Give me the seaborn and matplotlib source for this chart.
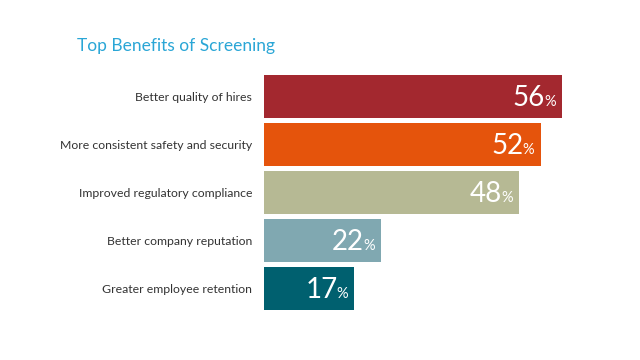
import matplotlib
matplotlib.use("Agg")
import matplotlib.pyplot as plt
import seaborn as sns
import pandas as pd
from matplotlib.transforms import offset_copy

categories = ["Better quality of hires", "More consistent safety and security",
              "Improved regulatory compliance", "Better company reputation",
              "Greater employee retention"]
values = [56, 52, 48, 22, 17]
colors = ["#A3282F", "#E5540C", "#B6B994", "#80A8B1", "#00606F"]
title = "Top Benefits of Screening"

sns.set_theme(style="white")
plt.rcParams['font.family'] = ['Lato', 'DejaVu Sans']

df = pd.DataFrame({"cat": categories, "val": values})
fig = plt.figure(figsize=(6.4, 3.6), dpi=100)
ax = fig.add_axes([264/640, 1-312.5/360, 320/640, 240/360])
sns.barplot(data=df, x="val", y="cat", hue="cat", palette=colors, legend=False,
            width=0.9, saturation=1, linewidth=0, ax=ax)
ax.set_xlim(0, 320/5.32)
ax.set_ylim(4.5, -0.5)
for s in ax.spines.values():
    s.set_visible(False)
ax.set_xticks([])
ax.set_xlabel("")
ax.set_ylabel("")
ax.tick_params(axis="y", length=0, pad=8.5, labelsize=8.8, labelcolor="#333333")

for i, v in enumerate(values):
    t1 = offset_copy(ax.transData, fig=fig, x=-17, y=-10, units="dots")
    ax.text(v, i, str(v), transform=t1, ha="right", va="baseline", color="white", fontsize=20)
    t2 = offset_copy(ax.transData, fig=fig, x=-18, y=-10, units="dots")
    ax.text(v, i, "%", transform=t2, ha="left", va="baseline", color="white", fontsize=10.5)

fig.text(77/640, 1-46/360, title, ha="left", va="center", color="#2AA6D6", fontsize=12.5)
fig.savefig("out.png", dpi=100, facecolor="white")
